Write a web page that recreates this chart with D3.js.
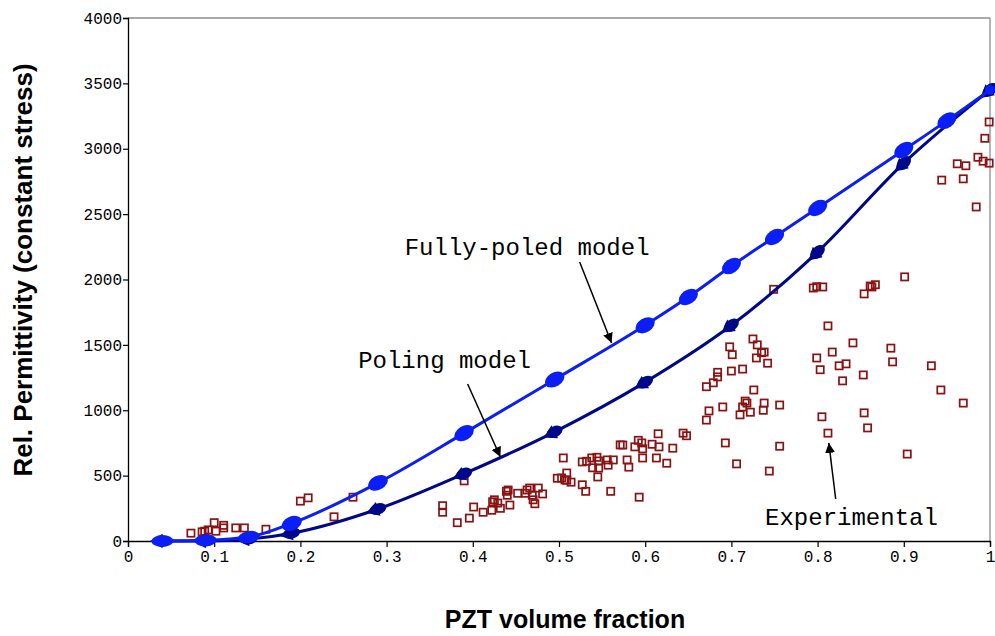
<!DOCTYPE html>
<html>
<head>
<meta charset="utf-8">
<script src="https://cdn.jsdelivr.net/npm/d3@7"></script>
<style>
  html, body { margin: 0; padding: 0; background: #fff; }
  svg { display: block; }
</style>
</head>
<body>
<svg id="chart" width="995" height="636"></svg>
<script>
// Fully-poled model: PZT volume fraction vs. relative permittivity
const fullyPoledX = [0.04, 0.09, 0.14, 0.19, 0.29, 0.39, 0.495, 0.6, 0.65, 0.7, 0.75, 0.8, 0.9, 0.95, 1.0];
const fullyPoledY = [0, 5, 30, 135, 445, 825, 1235, 1650, 1866, 2103, 2325, 2547, 2990, 3215, 3450];

// Poling model
const polingX = [0.04, 0.09, 0.14, 0.19, 0.29, 0.39, 0.495, 0.6, 0.7, 0.8, 0.9, 1.0];
const polingY = [0, 0, 15, 60, 245, 515, 835, 1215, 1650, 2210, 2890, 3450];

// Experimental measurements
const expX = [
  0.073, 0.086, 0.089, 0.093, 0.100, 0.102, 0.111, 0.111, 0.125, 0.135, 0.160, 0.200, 0.209, 0.239, 0.261,
  0.365, 0.365, 0.382, 0.390, 0.396, 0.401, 0.412, 0.422, 0.423, 0.432, 0.439, 0.441, 0.440, 0.443, 0.429, 0.425,
  0.452, 0.461, 0.463, 0.466, 0.469, 0.476, 0.481, 0.472, 0.470,
  0.498, 0.503, 0.509, 0.509, 0.514, 0.507, 0.505, 0.527, 0.531, 0.527, 0.532, 0.538, 0.544, 0.546, 0.556, 0.563,
  0.539, 0.546, 0.557, 0.545, 0.560, 0.571, 0.574, 0.579, 0.581,
  0.588, 0.592, 0.596, 0.597, 0.597, 0.608, 0.593, 0.613, 0.615, 0.616, 0.625, 0.632, 0.644, 0.648,
  0.671, 0.671, 0.674, 0.679, 0.684, 0.684, 0.690, 0.693, 0.698, 0.701, 0.700, 0.706, 0.713, 0.713, 0.716, 0.718,
  0.722, 0.710, 0.725, 0.730, 0.726, 0.729, 0.735, 0.738, 0.737, 0.738, 0.742, 0.744, 0.749, 0.756, 0.756,
  0.795, 0.799, 0.806, 0.812, 0.817, 0.799, 0.803, 0.805, 0.812, 0.825, 0.833, 0.829, 0.841, 0.853, 0.854, 0.858,
  0.854, 0.861, 0.863, 0.867, 0.885, 0.887, 0.901, 0.904,
  0.932, 0.943, 0.944, 0.962, 0.969, 0.969, 0.972, 0.984, 0.986, 0.992, 0.994, 0.999, 0.999
];
const expY = [
  60, 70, 75, 85, 140, 75, 120, 100, 100, 100, 90, 305, 330, 185, 335,
  270, 220, 140, 460, 175, 260, 220, 235, 300, 250, 380, 390, 350, 275, 290, 315,
  365, 365, 390, 405, 350, 405, 360, 285, 315,
  480, 482, 520, 465, 450, 467, 635, 430, 380, 605, 610, 635, 640, 612, 620, 620,
  560, 558, 580, 490, 380, 735, 734, 620, 565,
  720, 770, 750, 705, 635, 740, 335, 635, 820, 720, 595, 710, 825, 805,
  925, 1180, 995, 1210, 1255, 1290, 1025, 750, 1485, 1425, 1300, 590, 1315, 1025, 1070, 1055,
  985, 965, 1545, 1500, 1155, 1400, 1440, 1445, 1000, 1055, 1360, 535, 1925, 1040, 725,
  1935, 1945, 1943, 1645, 1445, 1400, 1310, 950, 825, 1340, 1355, 1225, 1515, 1270, 980, 865,
  1890, 1950, 1943, 1960, 1475, 1370, 2020, 665,
  1340, 1155, 2760, 2885, 2770, 1055, 2870, 2555, 2935, 2905, 3080, 2890, 3205
];

const xTicks = [0, 0.1, 0.2, 0.3, 0.4, 0.5, 0.6, 0.7, 0.8, 0.9, 1];
const yTicks = [0, 500, 1000, 1500, 2000, 2500, 3000, 3500, 4000];

// Callout labels with arrows, in data units
const notes = [
  { text: "Fully-poled model", tx: 0.321, ty: 2187, x1: 0.524, y1: 2134, x2: 0.561, y2: 1514 },
  { text: "Poling model",      tx: 0.267, ty: 1323, x1: 0.394, y1: 1201, x2: 0.432, y2: 642 },
  { text: "Experimental",      tx: 0.739, ty: 122,  x1: 0.821, y1: 321,  x2: 0.813, y2: 750 }
];

const svg = d3.select("#chart");
const padL = 128, padR = 990, padT = 18, padB = 541;

const x = d3.scaleLinear().domain([0, 1]).range([padL, padR]);
const y = d3.scaleLinear().domain([0, 4000]).range([padB, padT]);

const monoFont = "'Liberation Mono', 'Courier New', monospace";
const sansFont = "'Liberation Sans', Arial, sans-serif";

// Frame: grey top and right edges
svg.append("line").attr("x1", padL).attr("x2", padR).attr("y1", padT).attr("y2", padT)
  .attr("stroke", "#8c8c8c").attr("stroke-width", 1.3);
svg.append("line").attr("x1", padR).attr("x2", padR).attr("y1", padT).attr("y2", padB)
  .attr("stroke", "#8c8c8c").attr("stroke-width", 1.3);

// Axes
const xAxis = d3.axisBottom(x).tickValues(xTicks).tickSize(6).tickPadding(4)
  .tickFormat(d => d3.format("")(d));
const yAxis = d3.axisLeft(y).tickValues(yTicks).tickSize(5).tickPadding(1)
  .tickFormat(d3.format("d"));

const gx = svg.append("g").attr("transform", `translate(0,${padB})`).call(xAxis);
const gy = svg.append("g").attr("transform", `translate(${padL},0)`).call(yAxis);
[gx, gy].forEach(g => {
  g.select(".domain").attr("stroke", "#000").attr("stroke-width", 1.3);
  g.selectAll(".tick line").attr("stroke", "#000").attr("stroke-width", 1.2);
  g.selectAll(".tick text").attr("fill", "#000")
    .style("font-family", monoFont).style("font-size", "16px");
});

// Axis titles
svg.append("text").attr("x", 565).attr("y", 628)
  .attr("text-anchor", "middle")
  .style("font-family", sansFont).style("font-weight", "bold").style("font-size", "25px")
  .text("PZT volume fraction");
svg.append("text")
  .attr("transform", `translate(32,270) rotate(-90)`)
  .attr("text-anchor", "middle")
  .style("font-family", sansFont).style("font-weight", "bold").style("font-size", "26px")
  .text("Rel. Permittivity (constant stress)");

const plot = svg.append("g");

// Experimental points: open squares
const expData = expX.map((v, i) => ({ x: v, y: expY[i] }));
plot.append("g").selectAll("rect").data(expData).join("rect")
  .attr("x", d => x(d.x) - 3.6).attr("y", d => y(d.y) - 3.6)
  .attr("width", 7.2).attr("height", 7.2)
  .attr("fill", "none").attr("stroke", "#8b1212").attr("stroke-width", 1.7);

const lineGen = d3.line().x(d => x(d.x)).y(d => y(d.y)).curve(d3.curveMonotoneX);

function angleAt(data, i) {
  const a = data[Math.max(0, i - 1)], b = data[Math.min(data.length - 1, i + 1)];
  return Math.atan2(y(b.y) - y(a.y), x(b.x) - x(a.x)) * 180 / Math.PI;
}

// Poling model (navy, triangle markers)
const poling = polingX.map((v, i) => ({ x: v, y: polingY[i] }));
plot.append("path").datum(poling).attr("d", lineGen)
  .attr("fill", "none").attr("stroke", "#00088a").attr("stroke-width", 3);
const pm = plot.append("g").selectAll("g").data(poling).join("g")
  .attr("transform", (d, i) => `translate(${x(d.x)},${y(d.y)}) rotate(${angleAt(poling, i)})`);
pm.append("ellipse").attr("rx", 8.5).attr("ry", 5.5).attr("fill", "#00088a");
pm.append("path").attr("d", d3.symbol(d3.symbolTriangle, 90))
  .attr("transform", "translate(-4,0) rotate(-90)").attr("fill", "#00088a");

// Fully-poled model (blue, elongated dot markers)
const fully = fullyPoledX.map((v, i) => ({ x: v, y: fullyPoledY[i] }));
const last = fully.length - 1;
plot.append("path").datum(fully).attr("d", lineGen)
  .attr("fill", "none").attr("stroke", "#0a1ef5").attr("stroke-width", 3);
plot.append("g").selectAll("ellipse").data(fully).join("ellipse")
  .attr("transform", (d, i) => `translate(${x(d.x)},${y(d.y)}) rotate(${angleAt(fully, i)})`)
  .attr("rx", (d, i) => i === last ? 5 : i < 3 ? 11 : 10.5)
  .attr("ry", (d, i) => i === last ? 5 : i < 3 ? 6 : 7)
  .attr("fill", "#0a1ef5");

// Callouts
svg.append("defs").append("marker")
  .attr("id", "arrow").attr("viewBox", "0 0 10 10").attr("refX", 10).attr("refY", 5)
  .attr("markerWidth", 10).attr("markerHeight", 10).attr("markerUnits", "userSpaceOnUse")
  .attr("orient", "auto")
  .append("path").attr("d", "M0,0 L10,5 L0,10 Z").attr("fill", "#000");

const ng = svg.append("g");
ng.selectAll("line").data(notes).join("line")
  .attr("x1", d => x(d.x1)).attr("y1", d => y(d.y1))
  .attr("x2", d => x(d.x2)).attr("y2", d => y(d.y2))
  .attr("stroke", "#000").attr("stroke-width", 1.5).attr("marker-end", "url(#arrow)");
ng.selectAll("text").data(notes).join("text")
  .attr("x", d => x(d.tx)).attr("y", d => y(d.ty))
  .style("font-family", monoFont).style("font-size", "24px").attr("fill", "#000")
  .text(d => d.text);
</script>
</body>
</html>
